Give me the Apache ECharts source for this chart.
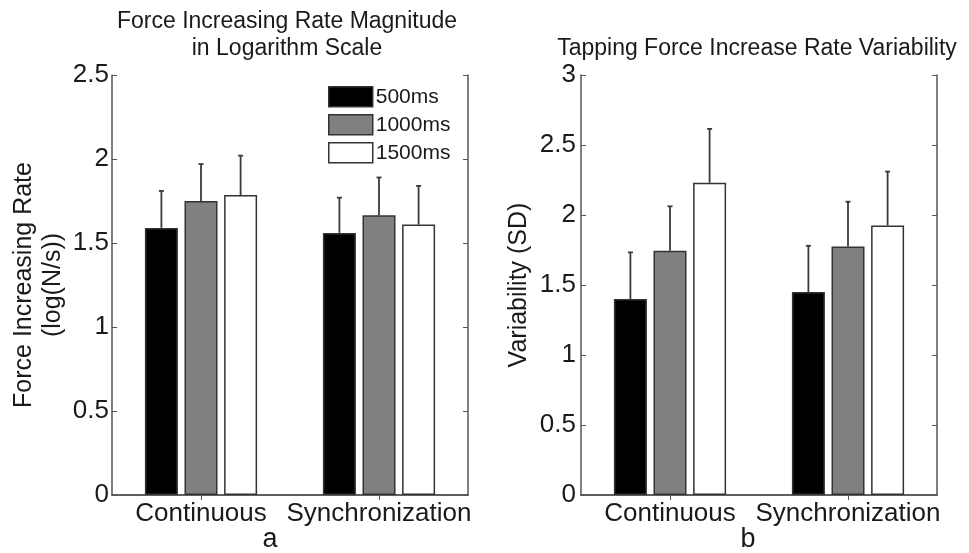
<!DOCTYPE html>
<html>
<head>
<meta charset="utf-8">
<script src="https://cdn.jsdelivr.net/npm/echarts@6/dist/echarts.min.js"></script>
<style>
html,body{margin:0;padding:0;background:#fff;}
#chart{width:969px;height:553px;}
</style>
</head>
<body>
<div id="chart"></div>
<script>
// ---- data ----
const categories = ['Continuous', 'Synchronization'];
const seriesNames = ['500ms', '1000ms', '1500ms'];

// Panel a: Force Increasing Rate (log(N/s)) - means and SD
const forceMean500  = [1.59, 1.56];
const forceMean1000 = [1.75, 1.665];
const forceMean1500 = [1.785, 1.61];
const forceSD500    = [0.22, 0.21];
const forceSD1000   = [0.22, 0.225];
const forceSD1500   = [0.235, 0.23];

// Panel b: Variability (SD) - means and SD
const varMean500  = [1.40, 1.45];
const varMean1000 = [1.745, 1.775];
const varMean1500 = [2.23, 1.925];
const varSD500    = [0.333, 0.33];
const varSD1000   = [0.317, 0.32];
const varSD1500   = [0.385, 0.385];

const yTicksA = { min: 0, max: 2.5, interval: 0.5 };
const yTicksB = { min: 0, max: 3, interval: 0.5 };

// ---- styles ----
const FONT = '"Liberation Sans", Arial, sans-serif';
const TXT = '#1a1a1a';
const AX = '#555';
const fills = ['#000000', '#808080', '#ffffff'];
const BAR_W = 33;
const BAR_GAP = 0.2;

const meansA = [forceMean500, forceMean1000, forceMean1500];
const sdsA = [forceSD500, forceSD1000, forceSD1500];
const meansB = [varMean500, varMean1000, varMean1500];
const sdsB = [varSD500, varSD1000, varSD1500];

function errData(means, sds) {
  const out = [];
  means.forEach((m, s) => {
    m.forEach((v, c) => out.push([c, s, v, v + sds[s][c]]));
  });
  return out;
}

function renderErr(params, api) {
  const c = api.value(0), s = api.value(1), lo = api.value(2), hi = api.value(3);
  const offset = (s - 1) * BAR_W * (1 + BAR_GAP);
  const p0 = api.coord([c, lo]);
  const p1 = api.coord([c, hi]);
  const x = p0[0] + offset;
  const st = { stroke: '#3a3a3a', lineWidth: 1.8 };
  return {
    type: 'group',
    children: [
      { type: 'line', shape: { x1: x, y1: p0[1], x2: x, y2: p1[1] }, style: st },
      { type: 'line', shape: { x1: x - 2.5, y1: p1[1], x2: x + 2.5, y2: p1[1] }, style: st }
    ]
  };
}

function xAxes(gi) {
  return [
    {
      type: 'category', gridIndex: gi, data: categories, position: 'bottom',
      axisLine: { show: true, lineStyle: { color: AX, width: 1.5 } },
      axisTick: { show: true, inside: true, alignWithLabel: true, length: 5, lineStyle: { color: AX } },
      axisLabel: { fontSize: 26, fontFamily: FONT, color: TXT, margin: 6, interval: 0, hideOverlap: false },
      splitLine: { show: false }
    },
    {
      type: 'category', gridIndex: gi, data: categories, position: 'top',
      axisLine: { show: true, lineStyle: { color: AX, width: 1.5 } },
      axisTick: { show: true, inside: true, alignWithLabel: true, length: 5, lineStyle: { color: AX } },
      axisLabel: { show: false },
      splitLine: { show: false }
    }
  ];
}

function yAxes(gi, t, name, gap, margin) {
  return [
    {
      type: 'value', gridIndex: gi, position: 'left', min: t.min, max: t.max, interval: t.interval,
      name: name, nameLocation: 'middle', nameRotate: 90, nameGap: gap,
      nameTextStyle: { fontSize: 25, fontFamily: FONT, color: TXT, lineHeight: 29 },
      axisLine: { show: true, lineStyle: { color: AX, width: 1.5 } },
      axisTick: { show: true, inside: true, length: 5, lineStyle: { color: AX } },
      axisLabel: { fontSize: 26, fontFamily: FONT, color: TXT, margin: margin },
      splitLine: { show: false }
    },
    {
      type: 'value', gridIndex: gi, position: 'right', min: t.min, max: t.max, interval: t.interval,
      axisLine: { show: true, lineStyle: { color: AX, width: 1.5 } },
      axisTick: { show: true, inside: true, length: 5, lineStyle: { color: AX } },
      axisLabel: { show: false },
      splitLine: { show: false }
    }
  ];
}

const series = [];
[[meansA, 0, 0], [meansB, 2, 2]].forEach(([means, xi, yi]) => {
  means.forEach((m, s) => {
    series.push({
      type: 'bar', name: seriesNames[s], xAxisIndex: xi, yAxisIndex: yi,
      data: m, barWidth: BAR_W, barGap: (BAR_GAP * 100) + '%',
      itemStyle: { color: fills[s], borderColor: '#333', borderWidth: 1.5 },
      emphasis: { disabled: true }, z: 2
    });
  });
});
series.push({ type: 'custom', xAxisIndex: 0, yAxisIndex: 0, data: errData(meansA, sdsA), renderItem: renderErr, z: 3, silent: true });
series.push({ type: 'custom', xAxisIndex: 2, yAxisIndex: 2, data: errData(meansB, sdsB), renderItem: renderErr, z: 3, silent: true });

const chart = echarts.init(document.getElementById('chart'), null, { renderer: 'canvas' });
chart.setOption({
  animation: false,
  backgroundColor: '#fff',
  textStyle: { fontFamily: FONT },
  title: [
    { text: 'Force Increasing Rate Magnitude\nin Logarithm Scale', left: 287, top: 8, textAlign: 'center', padding: 0,
      textStyle: { fontSize: 23, fontWeight: 'normal', fontFamily: FONT, color: TXT, lineHeight: 27 } },
    { text: 'Tapping Force Increase Rate Variability', left: 757, top: 35, textAlign: 'center', padding: 0,
      textStyle: { fontSize: 23, fontWeight: 'normal', fontFamily: FONT, color: TXT, lineHeight: 27 } },
    { text: 'a', left: 270, top: 525, textAlign: 'center', padding: 0,
      textStyle: { fontSize: 27, fontWeight: 'normal', fontFamily: FONT, color: TXT, lineHeight: 30 } },
    { text: 'b', left: 748, top: 525, textAlign: 'center', padding: 0,
      textStyle: { fontSize: 27, fontWeight: 'normal', fontFamily: FONT, color: TXT, lineHeight: 30 } }
  ],
  legend: {
    orient: 'vertical', left: 328, top: 86, padding: 0,
    itemWidth: 44, itemHeight: 20, itemGap: 6.5,
    selectedMode: false,
    textStyle: { fontSize: 21, fontFamily: FONT, color: TXT, padding: [0, 0, 0, -2] },
    data: seriesNames.map((n, i) => ({ name: n, icon: 'rect', itemStyle: { color: fills[i], borderColor: '#333', borderWidth: 1.5 } }))
  },
  grid: [
    { left: 112, top: 75, width: 356, height: 420 },
    { left: 581, top: 75, width: 356, height: 420 }
  ],
  xAxis: [...xAxes(0), ...xAxes(1)],
  yAxis: [
    ...yAxes(0, yTicksA, 'Force Increasing Rate\n(log(N/s))', 44, 3),
    ...yAxes(1, yTicksB, 'Variability (SD)', 47, 5)
  ],
  series: series
});
</script>
</body>
</html>
